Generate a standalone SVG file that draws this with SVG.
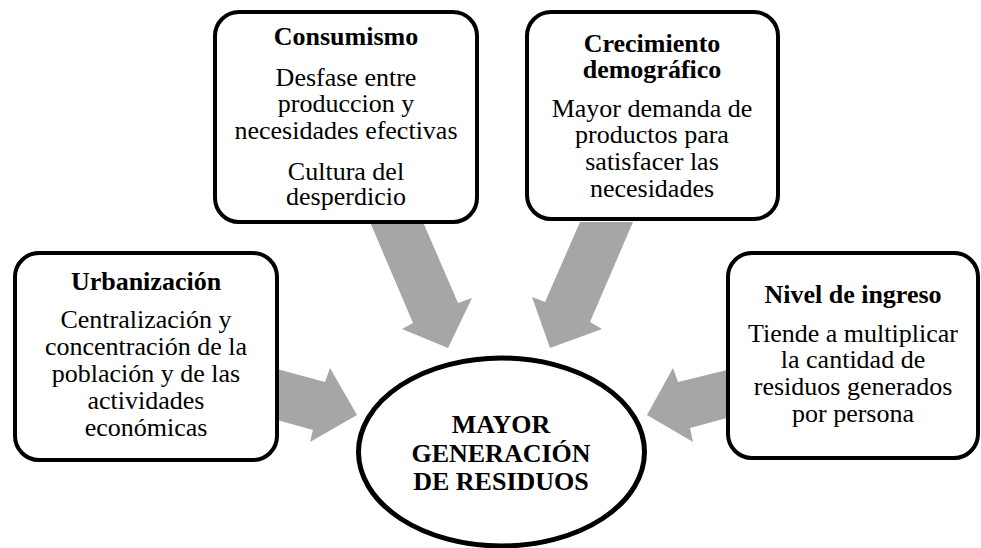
<svg xmlns="http://www.w3.org/2000/svg" width="981" height="548" viewBox="0 0 981 548">
<style>
.box{fill:#fff;stroke:#000;stroke-width:4}
.arrow{fill:#a6a6a6;stroke:none}
.tx{font-family:'Liberation Serif','Times New Roman',serif;text-anchor:middle;fill:#000}
.t{font-weight:bold;font-size:26px}
.b{font-size:26px}
</style>
<rect width="981" height="548" fill="#fff"/>
<g id="connectors">
<polygon class="arrow" points="370,222 413,323 402,329 448,348 472,298 458,303 423,222"/>
<polygon class="arrow" points="580,222 545,302 532,297 550,348 602,329 590,322 633,222"/>
<polygon class="arrow" points="277,369 325,382 330,368 357,415 310,442 313,430 277,420"/>
<polygon class="arrow" points="727,370 678,382 673,368 647,415 693,442 690,428 727,418"/>
</g>
<g id="consumismo" class="tx">
<rect class="box" x="215" y="12" width="262" height="210" rx="24"/>
<text class="t" x="346" y="45">Consumismo</text>
<text class="b" x="346" y="86">Desfase entre</text>
<text class="b" x="346" y="112">produccion y</text>
<text class="b" x="346" y="139">necesidades efectivas</text>
<text class="b" x="346" y="180">Cultura del</text>
<text class="b" x="346" y="205">desperdicio</text>
</g>
<g id="crecimiento" class="tx">
<rect class="box" x="527" y="12" width="251" height="207" rx="24"/>
<text class="t" x="652" y="52">Crecimiento</text>
<text class="t" x="652" y="78">demográfico</text>
<text class="b" x="652" y="117">Mayor demanda de</text>
<text class="b" x="652" y="143">productos para</text>
<text class="b" x="652" y="170">satisfacer las</text>
<text class="b" x="652" y="197">necesidades</text>
</g>
<g id="urbanizacion" class="tx">
<rect class="box" x="15" y="253" width="262" height="207" rx="24"/>
<text class="t" x="146" y="290">Urbanización</text>
<text class="b" x="146" y="328">Centralización y</text>
<text class="b" x="146" y="355">concentración de la</text>
<text class="b" x="146" y="382">población y de las</text>
<text class="b" x="146" y="409">actividades</text>
<text class="b" x="146" y="436">económicas</text>
</g>
<g id="nivel" class="tx">
<rect class="box" x="728" y="253" width="250" height="205" rx="24"/>
<text class="t" x="853" y="303">Nivel de ingreso</text>
<text class="b" x="853" y="342">Tiende a multiplicar</text>
<text class="b" x="853" y="368">la cantidad de</text>
<text class="b" x="853" y="395">residuos generados</text>
<text class="b" x="853" y="422">por persona</text>
</g>
<g id="centro" class="tx">
<ellipse cx="501.5" cy="452" rx="143" ry="94" fill="#fff" stroke="#000" stroke-width="5"/>
<text class="t" x="501" y="433">MAYOR</text>
<text class="t" x="501" y="462">GENERACIÓN</text>
<text class="t" x="501" y="490">DE RESIDUOS</text>
</g>
</svg>
